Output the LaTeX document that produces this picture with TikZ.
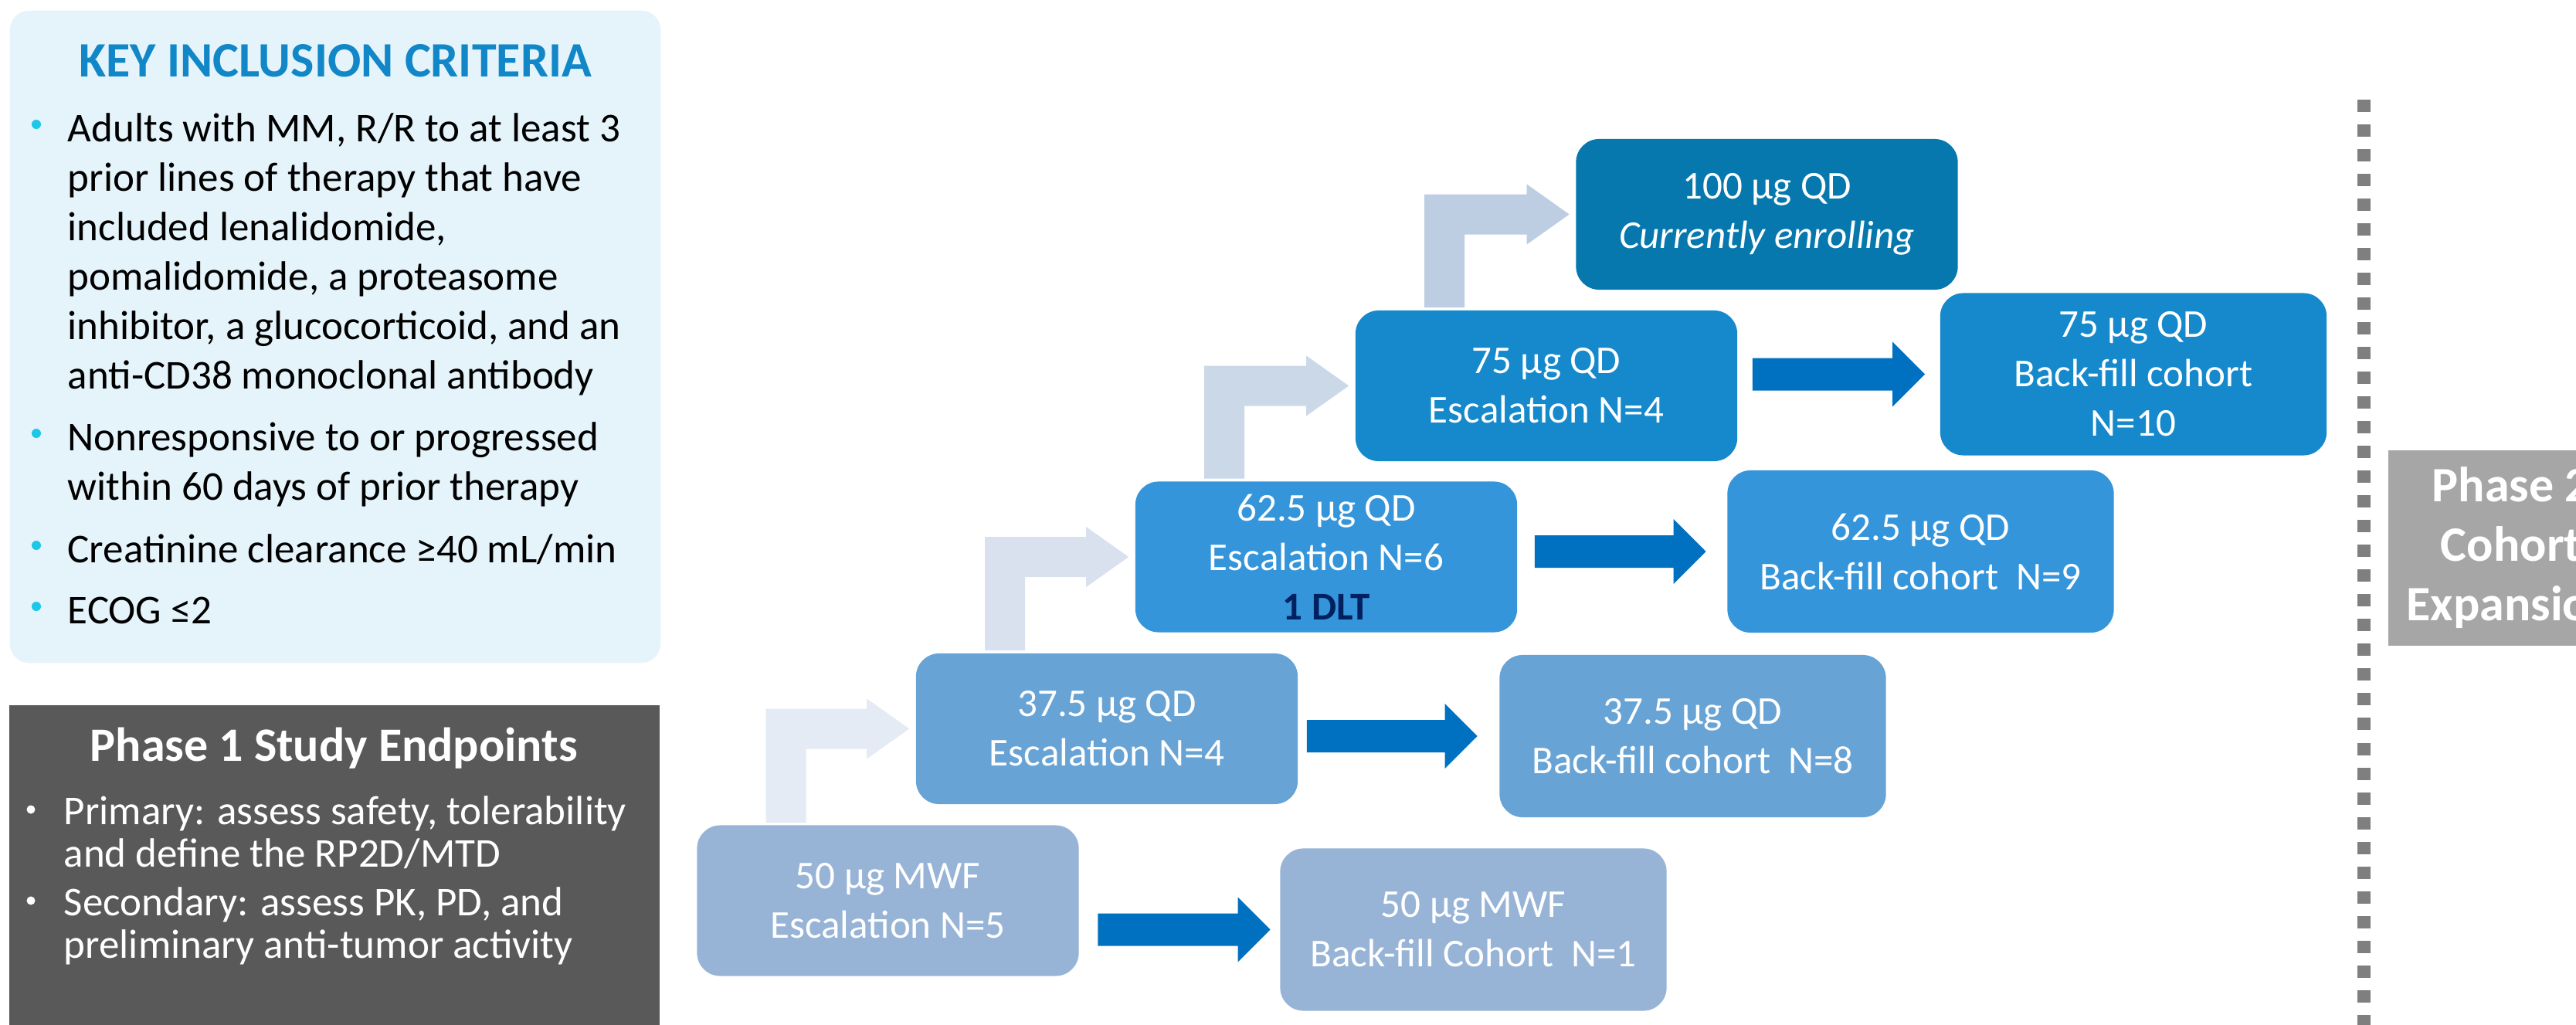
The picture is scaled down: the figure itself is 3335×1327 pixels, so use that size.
\documentclass[tikz,border=0pt]{standalone}
\usepackage{fontspec}
\setmainfont{Carlito}
\usetikzlibrary{calc}
\definecolor{c50}{HTML}{97B4D7}
\definecolor{c37}{HTML}{67A3D5}
\definecolor{c62}{HTML}{3595DB}
\definecolor{c75}{HTML}{1589CC}
\definecolor{c100}{HTML}{0678AE}
\definecolor{darkarr}{HTML}{0070C0}
\definecolor{ba1}{HTML}{E4EBF4}
\definecolor{ba2}{HTML}{D9E1EE}
\definecolor{ba3}{HTML}{CBD8E8}
\definecolor{ba4}{HTML}{BDCDE2}
\definecolor{keybg}{HTML}{E5F4FB}
\definecolor{keyblue}{HTML}{1187C8}
\definecolor{keydot}{HTML}{1CC7E8}
\definecolor{endgray}{HTML}{595959}
\definecolor{dashgray}{HTML}{7F7F7F}
\definecolor{ptwogray}{HTML}{A6A6A6}
\definecolor{dltnavy}{HTML}{002060}
% bent escalation arrow: colour, lower node, upper node
\newcommand\bentarr[3]{%
  \coordinate (bs) at ($(#2.north west)+(90,-3)$);
  \fill[#1] (bs) -- ($(bs |- #3.west)+(0,-26)$)
    -- ($(#3.west)+(-63,-26)$) -- ($(#3.west)+(-63,-39)$)
    -- ($(#3.west)+(-8,0)$)
    -- ($(#3.west)+(-63,39)$) -- ($(#3.west)+(-63,26)$)
    -- ($(bs |- #3.west)+(52,26)$) -- ($(bs)+(52,0)$) -- cycle;}
% straight back-fill arrow: from node, to node, start gap, end gap
\newcommand\fillarr[4]{%
  \coordinate (ps) at ($(#1.east |- #2.west)+(#3,0)$);
  \coordinate (pt) at ($(#2.west)+(-#4,0)$);
  \fill[darkarr] ($(ps)+(0,-21)$) -- ($(pt)+(-42,-21)$) -- ($(pt)+(-42,-42)$)
    -- (pt) -- ($(pt)+(-42,42)$) -- ($(pt)+(-42,21)$) -- ($(ps)+(0,21)$) -- cycle;}
\tikzset{
  dose/.style={rounded corners=0.3cm, align=center, text=white, inner sep=0pt,
    font=\fontsize{14.51pt}{18.21pt}\selectfont},
  esc/.style={dose, minimum width=4.94cm, minimum height=1.95cm},
  bf/.style={dose, minimum width=5.0cm, minimum height=2.1cm},
  body/.style={anchor=base west, inner sep=0pt, font=\fontsize{15.08pt}{18.2pt}\selectfont},
  kdot/.style={circle, fill=keydot, inner sep=0pt, minimum size=0.12cm},
  wdot/.style={circle, fill=white, inner sep=0pt, minimum size=0.11cm},
}
\begin{document}
\begin{tikzpicture}[x=0.01cm, y=-0.01cm]
\useasboundingbox (0,0) rectangle (3335,1327);
\clip (0,0) rectangle (3335,1327);
\fill[white] (0,0) rectangle (3335,1327);

% ---------- Key inclusion criteria ----------
\node[fill=keybg, rounded corners=0.25cm, minimum width=8.42cm, minimum height=8.44cm, inner sep=0pt] (keybox) at (434,436) {};
\node[anchor=base, inner sep=0pt, text=keyblue, font=\bfseries\fontsize{18.21pt}{22pt}\selectfont] (keytitle) at (434,99) {KEY INCLUSION CRITERIA};
\node[kdot] (d1) at (47,161) {};
\node[body] (k1) at (87,183) {Adults with MM, R/R to at least 3};
\node[body] (k2) at (87,247) {prior lines of therapy that have};
\node[body] (k3) at (87,311) {included lenalidomide,};
\node[body] (k4) at (87,375) {pomalidomide, a proteasome};
\node[body] (k5) at (87,439) {inhibitor, a glucocorticoid, and an};
\node[body] (k6) at (87,503) {anti-CD38 monoclonal antibody};
\node[kdot] (d2) at (47,561) {};
\node[body] (k7) at (87,583) {Nonresponsive to or progressed};
\node[body] (k8) at (87,647) {within 60 days of prior therapy};
\node[kdot] (d3) at (47,706) {};
\node[body] (k9) at (87,728) {Creatinine clearance ≥40 mL/min};
\node[kdot] (d4) at (47,785) {};
\node[body] (k10) at (87,807) {ECOG ≤2};

% ---------- Phase 1 endpoints ----------
\node[fill=endgray, minimum width=8.42cm, minimum height=4.4cm, inner sep=0pt] (endbox) at (433,1133) {};
\node[anchor=base west, inner sep=0pt, text=white, font=\bfseries\fontsize{17.64pt}{21pt}\selectfont] (endtitle) at (116,985) {Phase 1 Study Endpoints};
\node[wdot] (e1) at (40,1048) {};
\node[body, text=white] (p1) at (82,1067) {Primary: assess safety, tolerability};
\node[body, text=white] (p2) at (82,1122) {and define the RP2D/MTD};
\node[wdot] (e2) at (40,1166) {};
\node[body, text=white] (p3) at (82,1185) {Secondary: assess PK, PD, and};
\node[body, text=white] (p4) at (82,1240) {preliminary anti-tumor activity};

% ---------- dose boxes ----------
\node[esc, fill=c50] (e50) at (1149.5,1166) {50 µg MWF\\Escalation N=5};
\node[bf, fill=c50] (b50) at (1907.5,1203.5) {50 µg MWF\\Back-fill Cohort\ \ N=1};
\node[esc, fill=c37] (e37) at (1433,943.5) {37.5 µg QD\\Escalation N=4};
\node[bf, fill=c37] (b37) at (2191.5,953) {37.5 µg QD\\Back-fill cohort\ \ N=8};
\node[esc, fill=c62] (e62) at (1717,721) {62.5 µg QD\\Escalation N=6\\{\bfseries\color{dltnavy}1 DLT}};
\node[bf, fill=c62] (b62) at (2486.5,714) {62.5 µg QD\\Back-fill cohort\ \ N=9};
\node[esc, fill=c75] (e75) at (2002,499.5) {75 µg QD\\Escalation N=4};
\node[bf, fill=c75] (b75) at (2762,484.5) {75 µg QD\\Back-fill cohort\\N=10};
\node[esc, fill=c100] (c100) at (2287.5,277.5) {100 µg QD\\\itshape Currently enrolling};

% ---------- escalation arrows ----------
\bentarr{ba1}{e50}{e37}
\bentarr{ba2}{e37}{e62}
\bentarr{ba3}{e62}{e75}
\bentarr{ba4}{e75}{c100}

% ---------- back-fill arrows ----------
\fillarr{e50}{b50}{24}{12}
\fillarr{e37}{b37}{11}{28}
\fillarr{e62}{b62}{22}{27}
\fillarr{e75}{b75}{19}{19}

% ---------- phase separator and phase 2 ----------
\coordinate (septop) at (3060.5,129);
\coordinate (sepbot) at (3060.5,1345);
\draw[dashgray, line width=0.17cm, dash pattern=on 0.16cm off 0.16cm] (septop) -- (sepbot);
\node[fill=ptwogray, minimum width=3.18cm, minimum height=2.53cm, inner sep=0pt, align=center, text=white,
  font=\bfseries\fontsize{18.21pt}{21.9pt}\selectfont] (ph2) at (3251,709.5) {Phase 2\\Cohort\\Expansion};
\end{tikzpicture}
\end{document}
